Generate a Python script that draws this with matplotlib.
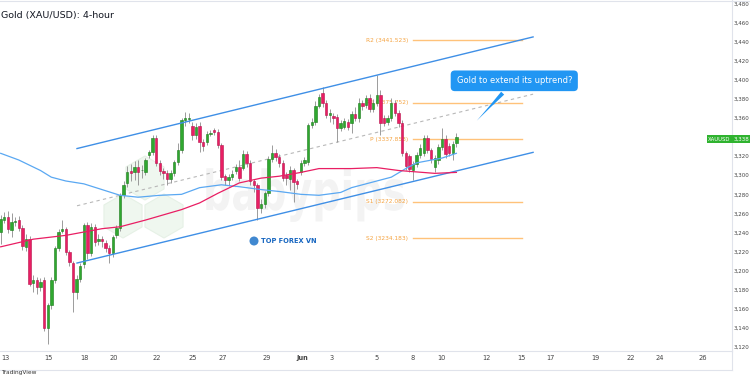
import matplotlib
matplotlib.use('Agg')
import matplotlib.pyplot as plt
import numpy as np
from matplotlib.patches import RegularPolygon, PathPatch, Circle
from matplotlib.lines import Line2D
from matplotlib.textpath import TextPath
from matplotlib.font_manager import FontProperties
from matplotlib.transforms import Affine2D, IdentityTransform, blended_transform_factory

# 4-hour candles, oldest first
opens = [3241, 3253, 3256, 3243, 3251, 3253, 3245, 3225, 3233, 3187,
         3190, 3183, 3190, 3140, 3164, 3190, 3224, 3242, 3244, 3220,
         3208, 3178, 3191, 3207, 3248, 3219, 3246, 3231, 3233, 3229,
         3224, 3219, 3237, 3245, 3279, 3292, 3304, 3303, 3309, 3305,
         3303, 3321, 3324, 3339, 3313, 3304, 3302, 3296, 3302, 3314,
         3326, 3358, 3359, 3352, 3342, 3352, 3335, 3335, 3343, 3347,
         3345, 3332, 3299, 3295, 3298, 3304, 3309, 3308, 3322, 3313,
         3294, 3290, 3266, 3270, 3281, 3317, 3323, 3319, 3313, 3300,
         3296, 3305, 3294, 3303, 3313, 3314, 3353, 3356, 3373, 3386,
         3376, 3363, 3362, 3361, 3350, 3351, 3356, 3355, 3364, 3360,
         3376, 3374, 3381, 3369, 3376, 3384, 3360, 3356, 3360, 3376,
         3365, 3355, 3323, 3320, 3305, 3312, 3321, 3323, 3339, 3326,
         3309, 3316, 3330, 3338, 3331, 3323, 3334]
highs = [3258, 3262, 3263, 3260, 3256, 3257, 3248, 3238, 3236, 3195,
         3193, 3192, 3193, 3166, 3193, 3226, 3244, 3253, 3246, 3222,
         3210, 3195, 3208, 3250, 3251, 3250, 3249, 3238, 3236, 3232,
         3227, 3237, 3248, 3281, 3294, 3310, 3312, 3315, 3316, 3311,
         3318, 3327, 3342, 3342, 3316, 3308, 3305, 3306, 3316, 3334,
         3360, 3366, 3365, 3356, 3355, 3356, 3338, 3346, 3347, 3350,
         3348, 3334, 3301, 3301, 3305, 3312, 3316, 3326, 3325, 3316,
         3296, 3292, 3275, 3284, 3320, 3332, 3328, 3322, 3316, 3303,
         3310, 3308, 3296, 3316, 3319, 3355, 3360, 3378, 3385, 3392,
         3379, 3369, 3365, 3364, 3358, 3360, 3359, 3367, 3372, 3381,
         3379, 3384, 3385, 3380, 3405, 3389, 3363, 3363, 3381, 3379,
         3368, 3358, 3325, 3322, 3315, 3324, 3333, 3342, 3342, 3329,
         3321, 3333, 3350, 3342, 3334, 3336, 3344]
lows = [3228, 3250, 3240, 3235, 3247, 3242, 3222, 3221, 3184, 3178,
        3176, 3179, 3137, 3123, 3160, 3187, 3221, 3239, 3216, 3205,
        3157, 3170, 3188, 3203, 3212, 3215, 3226, 3227, 3225, 3220,
        3208, 3214, 3234, 3242, 3276, 3288, 3294, 3295, 3290, 3297,
        3300, 3318, 3321, 3310, 3300, 3296, 3290, 3292, 3299, 3311,
        3323, 3352, 3355, 3337, 3338, 3324, 3325, 3332, 3341, 3342,
        3329, 3295, 3290, 3289, 3295, 3301, 3294, 3305, 3309, 3290,
        3282, 3253, 3260, 3266, 3278, 3314, 3315, 3309, 3294, 3290,
        3285, 3272, 3286, 3300, 3310, 3311, 3350, 3353, 3370, 3372,
        3360, 3356, 3354, 3335, 3346, 3348, 3347, 3344, 3357, 3356,
        3368, 3370, 3366, 3366, 3373, 3342, 3352, 3353, 3357, 3362,
        3351, 3320, 3306, 3303, 3295, 3309, 3318, 3320, 3323, 3313,
        3303, 3312, 3327, 3318, 3320, 3316, 3330]
closes = [3254, 3256, 3244, 3251, 3251, 3245, 3226, 3233, 3186, 3190,
          3183, 3188, 3140, 3164, 3190, 3224, 3241, 3244, 3220, 3209,
          3178, 3191, 3205, 3248, 3219, 3246, 3230, 3233, 3231, 3224,
          3219, 3235, 3245, 3279, 3290, 3303, 3302, 3309, 3303, 3306,
          3316, 3324, 3339, 3313, 3304, 3302, 3296, 3302, 3314, 3326,
          3358, 3360, 3359, 3342, 3351, 3335, 3331, 3343, 3344, 3345,
          3332, 3298, 3295, 3298, 3301, 3309, 3297, 3322, 3313, 3294,
          3290, 3266, 3270, 3281, 3317, 3323, 3319, 3313, 3297, 3297,
          3305, 3293, 3291, 3313, 3316, 3353, 3356, 3373, 3382, 3376,
          3363, 3365, 3360, 3350, 3355, 3357, 3351, 3364, 3360, 3376,
          3373, 3381, 3369, 3376, 3384, 3355, 3355, 3360, 3376, 3365,
          3355, 3323, 3310, 3307, 3312, 3321, 3329, 3339, 3326, 3317,
          3318, 3330, 3338, 3322, 3323, 3333, 3340]

# moving averages, sampled at bar positions
ma_blue_x = [0, 5, 11, 14, 18, 23, 28, 33, 38, 44, 50, 55, 61, 66, 72, 77,
             83, 88, 94, 97, 100, 105, 108, 112, 115, 122, 126]
ma_blue = [3323, 3316, 3305, 3298, 3294, 3291, 3285, 3279, 3277, 3279, 3280,
           3287, 3290, 3288, 3285, 3283, 3280, 3279, 3282, 3287, 3290, 3295,
           3298, 3307, 3313, 3318, 3323]
ma_pink_x = [0, 9, 18, 28, 33, 40, 50, 55, 60, 66, 72, 77, 83, 88, 97, 104,
             110, 120, 126]
ma_pink = [3225, 3233, 3237, 3244, 3246, 3253, 3264, 3271, 3281, 3292, 3297,
           3299, 3303, 3307, 3307, 3308, 3305, 3302, 3303]

# rising channel
chan_x = [21.1, 147.2]
chan_upper = [3328, 3445]
chan_mid = [3268, 3385]
chan_lower = [3208, 3324]

# pivot levels
piv_names = ['R2', 'R1', 'P', 'S1', 'S2']
piv_vals = [3441.523, 3375.752, 3337.853, 3272.082, 3234.183]
piv_x = [114.0, 144.1]

date_labels = ['13', '15', '18', '20', '22', '25', '27', '29', 'Jun', '3',
               '5', '8', '10', '12', '15', '17', '19', '22', '24', '26']
date_pos = [1.2, 13.1, 23.3, 31.3, 43.2, 53.2, 61.5, 73.6, 83.3, 91.6,
            104.0, 114.0, 122.0, 134.2, 144.1, 152.1, 164.3, 174.3, 182.3, 194.2]
last_price = 3338

fig = plt.figure(figsize=(7.5, 3.75), dpi=100)
fig.patch.set_facecolor('white')
ax = fig.add_axes([0, 24 / 375, 732 / 750, 351 / 375])
ax.set_xlim(-0.19, 202.2)
ax.set_ylim(3115.8, 3483.7)

# watermark: hexagon logo + babypips text (display pixels)
for cx, cy in [(145, 178), (123, 216), (164, 216)]:
    ax.add_patch(RegularPolygon((cx, 375 - cy), numVertices=6, radius=22,
                                transform=IdentityTransform(), fc='#eff7ef',
                                ec='#e6f1e6', lw=0.8, zorder=0))
tp = TextPath((0, 0), 'babypips', size=55,
              prop=FontProperties(family='DejaVu Sans', weight='bold'))
ax.add_patch(PathPatch(tp, transform=Affine2D().scale(0.72, 1.0).translate(203, 165),
                       fc='#f3f3f3', ec='none', zorder=0))
ax.add_patch(Circle((254, 134), 4.5, transform=IdentityTransform(),
                    fc='#1e73c8', ec='none', alpha=0.85, zorder=1))
fig.text(261 / 750, 134 / 375, 'TOP FOREX VN', fontsize=4.8, weight='bold',
         color='#1565c0', va='center')

# pivots
for name, v in zip(piv_names, piv_vals):
    ax.plot(piv_x, [v, v], color='#ffc27a', lw=1, zorder=2)
    ax.text(piv_x[0] - 1.3, v, f'{name} ({v:.3f})', fontsize=4.2,
            color='#f5a340', ha='right', va='center', zorder=2)

# channel
ax.plot(chan_x, chan_upper, color='#3f8fe6', lw=1, zorder=5)
ax.plot(chan_x, chan_lower, color='#3f8fe6', lw=1, zorder=5)
ax.plot(chan_x, chan_mid, color='#b8b8b8', lw=0.8, ls=(0, (3, 3)), zorder=2)

# candles
o = np.array(opens); h = np.array(highs); l = np.array(lows); c = np.array(closes)
idx = np.arange(len(o))
up = c >= o
bot = np.minimum(o, c)
hgt = np.maximum(np.abs(c - o), 0.9)
ax.vlines(idx, l, h, color='#8c8c8c', lw=0.6, zorder=3)
ax.bar(idx[up], hgt[up], bottom=bot[up], width=0.66, color='#2fa82f',
       edgecolor='#1b7a1b', lw=0.4, zorder=4)
ax.bar(idx[~up], hgt[~up], bottom=bot[~up], width=0.66, color='#e91e63',
       edgecolor='#b5124c', lw=0.4, zorder=4)

# moving averages
ax.plot(ma_blue_x, ma_blue, color='#5aa8f2', lw=0.9, zorder=5)
ax.plot(ma_pink_x, ma_pink, color='#e91e63', lw=0.9, zorder=5)

# callout
ax.annotate('Gold to extend its uptrend?', xy=(131.1, 3355), xytext=(142, 3399),
            ha='center', va='center', fontsize=6, color='white', zorder=10,
            bbox=dict(boxstyle='round,pad=0.7,rounding_size=0.5', fc='#2196f3', ec='none'),
            arrowprops=dict(arrowstyle='wedge,tail_width=0.5,shrink_factor=0.4',
                            fc='#2196f3', ec='none', lw=0))

# axes styling
ax.yaxis.tick_right()
yt = np.arange(3120, 3481, 20)
ax.set_yticks(yt)
ax.set_yticklabels([f'{v:,}' for v in yt])
ax.tick_params(axis='y', length=0, pad=1.2, labelsize=4.0, labelcolor='#444444')
ax.set_xticks(date_pos)
ax.set_xticklabels(date_labels)
ax.tick_params(axis='x', length=0, pad=3, labelsize=4.8, labelcolor='#444444')
for t in ax.get_xticklabels():
    if t.get_text() == 'Jun':
        t.set_fontweight('bold')
for s in ['top', 'left']:
    ax.spines[s].set_visible(False)
for s in ['right', 'bottom']:
    ax.spines[s].set_color('#e0e3eb')
    ax.spines[s].set_linewidth(0.8)

# last price tags
tr = blended_transform_factory(ax.transAxes, ax.transData)
ax.text(0.998, last_price, 'XAUUSD', transform=tr, ha='right', va='center',
        fontsize=3.8, color='white', clip_on=False, zorder=11,
        bbox=dict(boxstyle='square,pad=0.3', fc='#2fb32f', ec='none'))
ax.text(1.0025, last_price, f'{last_price:,}', transform=tr, ha='left', va='center',
        fontsize=4.0, color='white', clip_on=False, zorder=11,
        bbox=dict(boxstyle='square,pad=0.25', fc='#2fb32f', ec='none'))

# frame lines
fig.add_artist(Line2D([0, 1], [0.997, 0.997], color='#e0e3eb', lw=0.8))
fig.add_artist(Line2D([0, 732 / 750], [5 / 375, 5 / 375], color='#e0e3eb', lw=0.8))
fig.add_artist(Line2D([732 / 750, 732 / 750], [5 / 375, 24 / 375], color='#e0e3eb', lw=0.8))

fig.text(0.001, 0.958, 'Gold (XAU/USD): 4-hour', fontsize=6.8, color='#131722', va='center')
fig.text(0.002, 0.006, 'TradingView', fontsize=4.2, color='#333333', va='center')

fig.savefig('out.png', dpi=100, facecolor='white')
